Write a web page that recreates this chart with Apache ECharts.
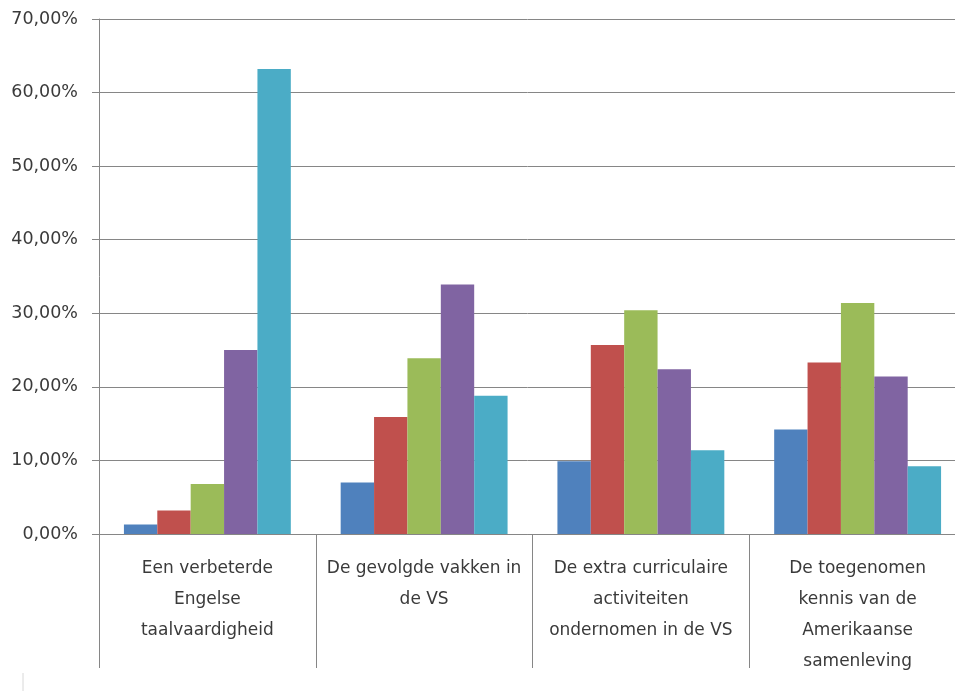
<!DOCTYPE html>
<html>
<head>
<meta charset="utf-8">
<script src="https://cdn.jsdelivr.net/npm/echarts@6/dist/echarts.min.js"></script>
<style>
html,body{margin:0;padding:0;background:#fff;}
#chart{width:955px;height:691px;}
</style>
</head>
<body>
<div id="chart"></div>
<script>
var categories = [
  "Een verbeterde\nEngelse\ntaalvaardigheid",
  "De gevolgde vakken in\nde VS",
  "De extra curriculaire\nactiviteiten\nondernomen in de VS",
  "De toegenomen\nkennis van de\nAmerikaanse\nsamenleving"
];
var series1 = [1.3, 7.0, 9.9, 14.2];
var series2 = [3.2, 15.9, 25.7, 23.3];
var series3 = [6.8, 23.9, 30.4, 31.4];
var series4 = [25.0, 33.9, 22.4, 21.4];
var series5 = [63.2, 18.8, 11.4, 9.2];
var yTicks = [0, 10, 20, 30, 40, 50, 60, 70];
var colors = ['#4F81BD', '#C0504D', '#9BBB59', '#8064A2', '#4BACC6'];

var chart = echarts.init(document.getElementById('chart'));
var allSeries = [series1, series2, series3, series4, series5];
chart.setOption({
  animation: false,
  grid: {left: 99, top: 19, right: -11, bottom: 157, containLabel: false, outerBoundsMode: 'none'},
  graphic: [{
    type: 'line', shape: {x1: 23, y1: 673, x2: 23, y2: 691},
    style: {stroke: '#d8d8d8', lineWidth: 1}
  }],
  xAxis: {
    type: 'category',
    data: categories,
    axisLine: {lineStyle: {color: '#868686', width: 1}},
    axisTick: {show: true, length: 134, lineStyle: {color: '#868686'}},
    axisLabel: {
      interval: 0, margin: 19, lineHeight: 31,
      fontFamily: 'DejaVu Sans', fontSize: 17, color: '#3a3a3a'
    }
  },
  yAxis: {
    type: 'value',
    min: yTicks[0], max: yTicks[yTicks.length - 1], interval: 10,
    axisLine: {show: true, lineStyle: {color: '#868686'}},
    axisTick: {show: true, length: 7, lineStyle: {color: '#868686'}},
    splitLine: {lineStyle: {color: '#868686', width: 1}},
    axisLabel: {
      margin: 21, fontFamily: 'DejaVu Sans', fontSize: 17.5, color: '#3a3a3a',
      formatter: function (v) { return v.toFixed(2).replace('.', ',') + '%'; }
    }
  },
  series: allSeries.map(function (d, i) {
    return {
      type: 'bar', data: d, barGap: '0%', barCategoryGap: '23%',
      itemStyle: {color: colors[i]}
    };
  })
});
</script>
</body>
</html>
